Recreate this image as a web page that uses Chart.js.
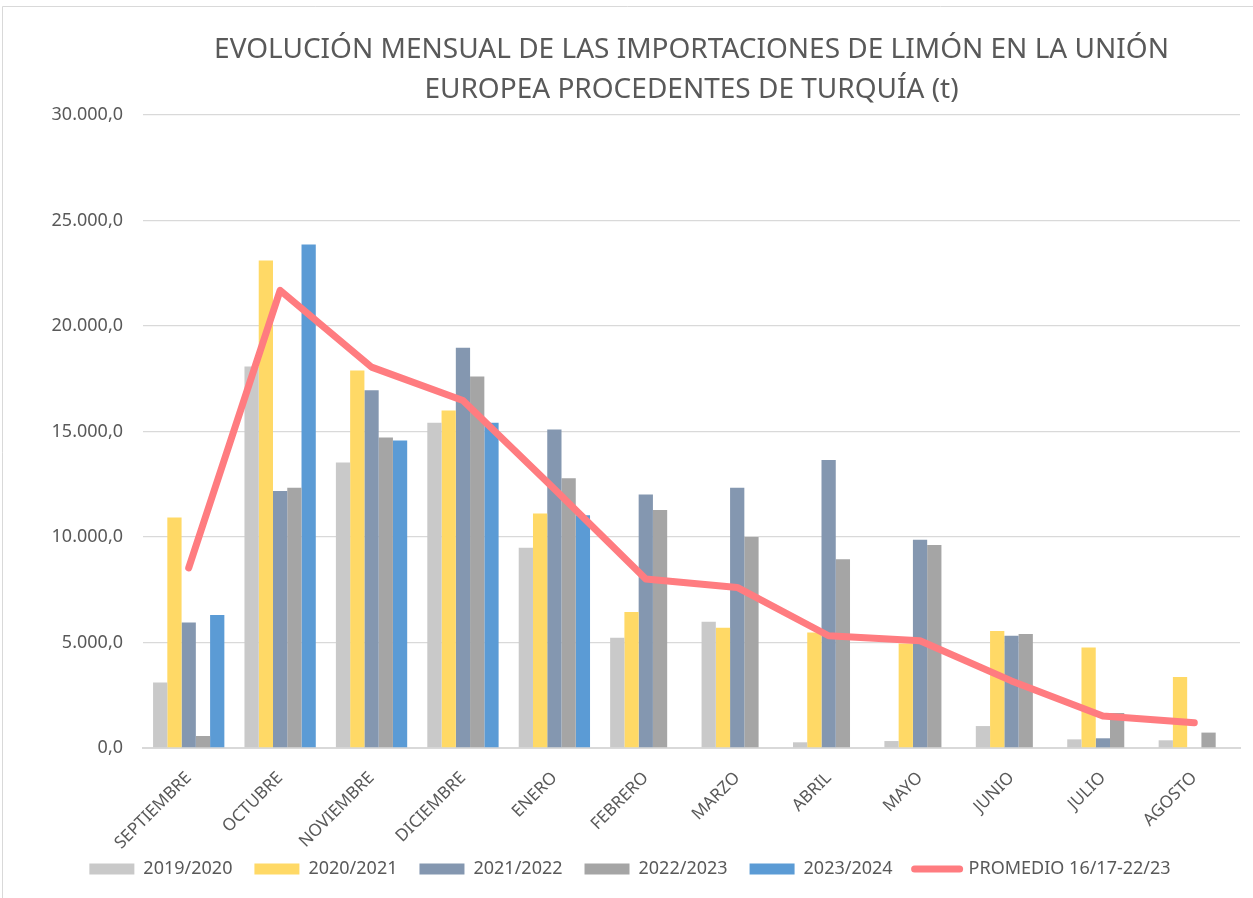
<!DOCTYPE html>
<html>
<head>
<meta charset="utf-8">
<script src="https://cdn.jsdelivr.net/npm/chart.js@4"></script>
<style>
  html, body { margin: 0; padding: 0; background: #fff; }
  #wrap { position: relative; width: 1253px; height: 898px; }
</style>
</head>
<body>
<div id="wrap"><canvas id="chart"></canvas></div>
<script>
const months = ["SEPTIEMBRE", "OCTUBRE", "NOVIEMBRE", "DICIEMBRE", "ENERO", "FEBRERO",
    "MARZO", "ABRIL", "MAYO", "JUNIO", "JULIO", "AGOSTO"];

const s2019 = [3100, 18080, 13530, 15410, 9490, 5220, 5980, 270, 330, 1040, 410, 365];
const s2020 = [10930, 23110, 17890, 16000, 11110, 6440, 5700, 5470, 4950, 5550, 4760, 3370];
const s2021 = [5950, 12180, 16960, 18970, 15090, 12010, 12340, 13650, 9870, 5320, 460, null];
const s2022 = [570, 12340, 14710, 17610, 12780, 11280, 10000, 8950, 9620, 5400, 1660, 730];
const s2023 = [6300, 23860, 14570, 15420, 11030, null, null, null, null, null, null, null];
const promedio = [8540, 21690, 18050, 16470, 12280, 8010, 7610, 5320, 5080, 3180, 1520, 1200];

const FONT = "'Noto Sans', 'Open Sans', sans-serif";
const TXT = "#595959";

function fmt(v) {
    const s = Math.round(v).toString().replace(/\B(?=(\d{3})+(?!\d))/g, ".");
    return s + ",0";
}

// light frame of the original sheet chart
const frame = {
    id: "frame",
    beforeDraw(chart) {
        const { ctx } = chart;
        ctx.save();
        ctx.fillStyle = "#fff";
        ctx.fillRect(0, 0, chart.width, chart.height);
        ctx.strokeStyle = "#d9d9d9";
        ctx.lineWidth = 1;
        ctx.beginPath();
        ctx.moveTo(2.5, chart.height);
        ctx.lineTo(2.5, 6.5);
        ctx.lineTo(chart.width, 6.5);
        ctx.stroke();
        ctx.restore();
    },
};

function bar(label, data, color) {
    return {
        type: "bar",
        label,
        data,
        backgroundColor: color,
        borderWidth: 0,
        order: 1,
    };
}

const data = {
    labels: months,
    datasets: [
        bar("2019/2020", s2019, "#C9C9C9"),
        bar("2020/2021", s2020, "#FFD966"),
        bar("2021/2022", s2021, "#8497B0"),
        bar("2022/2023", s2022, "#A5A5A5"),
        bar("2023/2024", s2023, "#5B9BD5"),
        {
            type: "line",
            label: "PROMEDIO 16/17-22/23",
            data: promedio,
            borderColor: "#FF7C80",
            backgroundColor: "#FF7C80",
            borderWidth: 7,
            borderCapStyle: "round",
            borderJoinStyle: "round",
            pointRadius: 0,
            tension: 0,
            order: 0,
        },
    ],
};

new Chart(document.getElementById("chart"), {
    type: "bar",
    data,
    options: {
        responsive: true,
        maintainAspectRatio: false,
        animation: false,
        layout: { padding: { left: 20, right: 13, top: 0, bottom: 10 } },
        datasets: {
            bar: { categoryPercentage: 0.78, barPercentage: 1 },
        },
        plugins: {
            title: {
                display: true,
                fullSize: false,
                text: ["EVOLUCIÓN MENSUAL DE LAS IMPORTACIONES DE LIMÓN EN LA UNIÓN",
                    "EUROPEA PROCEDENTES DE TURQUÍA (t)"],
                color: TXT,
                font: { family: FONT, size: 28, weight: "normal", lineHeight: 40 / 28 },
                padding: { top: 30, bottom: 5 },
            },
            legend: {
                position: "bottom",
                labels: {
                    color: TXT,
                    font: { family: FONT, size: 18 },
                    usePointStyle: true,
                    pointStyleWidth: 45,
                    boxHeight: 11,
                    padding: 10,
                    generateLabels(chart) {
                        return chart.data.datasets.map((ds, i) => {
                            const isLine = ds.type === "line";
                            return {
                                // trailing spaces widen the gap between items
                                text: isLine ? ds.label : ds.label + "\u2002\u2009",
                                fillStyle: ds.backgroundColor,
                                strokeStyle: isLine ? ds.borderColor : ds.backgroundColor,
                                lineWidth: isLine ? 7 : 0,
                                lineCap: "round",
                                pointStyle: isLine ? "line" : "rect",
                                fontColor: TXT,
                                datasetIndex: i,
                            };
                        });
                    },
                },
            },
            tooltip: { enabled: false },
        },
        scales: {
            x: {
                afterFit(scale) { scale.height = 102; },
                grid: { display: false, drawTicks: false },
                border: { color: "#d9d9d9", width: 2 },
                ticks: {
                    color: TXT,
                    font: { family: FONT, size: 17 },
                    minRotation: 45,
                    maxRotation: 45,
                    padding: 20,
                },
            },
            y: {
                min: 0,
                max: 30000,
                afterFit(scale) { scale.width = 123; },
                grid: { color: "#d9d9d9", lineWidth: 1.3, drawTicks: false },
                border: { display: false },
                ticks: {
                    stepSize: 5000,
                    color: TXT,
                    font: { family: FONT, size: 18 },
                    padding: 20,
                    callback: (v) => fmt(v),
                },
            },
        },
    },
    plugins: [frame],
});
</script>
</body>
</html>
